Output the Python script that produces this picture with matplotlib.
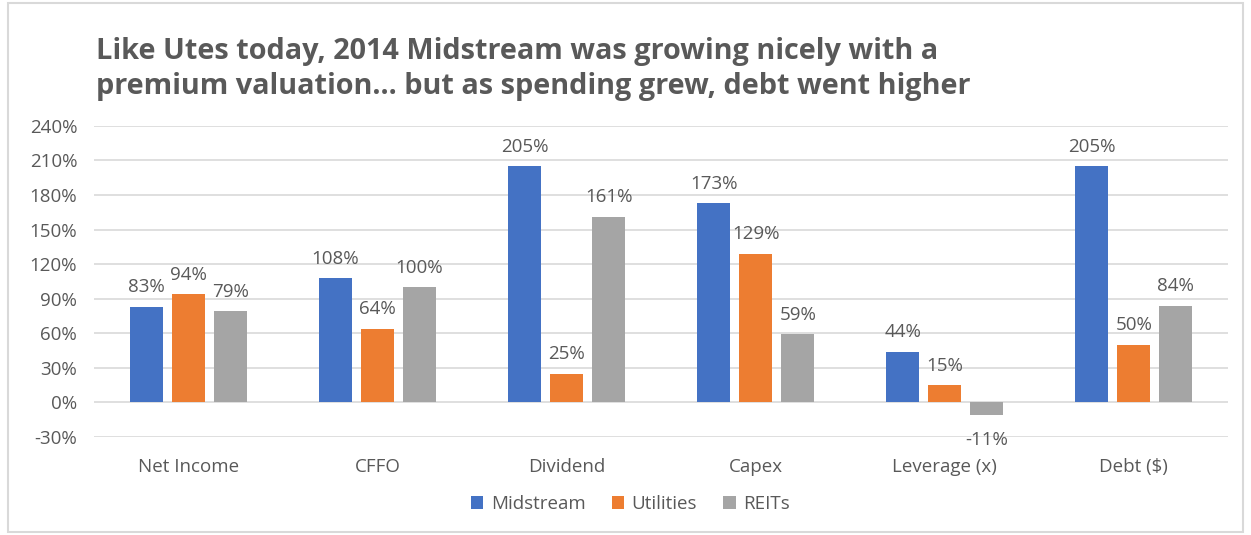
import numpy as np
import matplotlib.pyplot as plt
from matplotlib.patches import Rectangle

categories = ['Net Income', 'CFFO', 'Dividend', 'Capex', 'Leverage (x)', 'Debt ($)']
midstream = [83, 108, 205, 173, 44, 205]
utilities = [94, 64, 25, 129, 15, 50]
reits = [79, 100, 161, 59, -11, 84]
series = [('Midstream', midstream, '#4472C4'),
          ('Utilities', utilities, '#ED7D31'),
          ('REITs', reits, '#A5A5A5')]

plt.rcParams['font.family'] = ['Open Sans', 'DejaVu Sans']
txt = '#595959'

fig = plt.figure(figsize=(12.51, 5.35), dpi=100)
ax = fig.add_axes([0.075, 0.183, 0.907, 0.582])

x = np.arange(len(categories))
w = 0.175
step = 0.222
for i, (name, vals, col) in enumerate(series):
    pos = x + (i - 1) * step
    ax.bar(pos, vals, width=w, color=col, label=name, zorder=3)
    for p, v in zip(pos, vals):
        if v >= 0:
            ax.text(p, v + 9, f'{v}%', ha='center', va='bottom', fontsize=13.5, color=txt)
        else:
            ax.text(p, v - 14, f'{v}%', ha='center', va='top', fontsize=13.5, color=txt)

ax.set_xlim(-0.5, len(categories) - 0.5)
ax.set_ylim(-30, 240)
ax.set_yticks(np.arange(-30, 241, 30))
ax.set_yticklabels([f'{t}%' for t in range(-30, 241, 30)])
ax.set_xticks(x)
ax.set_xticklabels(categories)
ax.tick_params(length=0, labelsize=13.5, colors=txt)
ax.tick_params(axis='x', pad=15)
ax.tick_params(axis='y', pad=12)
ax.grid(axis='y', color='#D9D9D9', linewidth=1.2, zorder=0)
for s in ax.spines.values():
    s.set_visible(False)

fig.text(0.077, 0.871, 'Like Utes today, 2014 Midstream was growing nicely with a\n'
         'premium valuation... but as spending grew, debt went higher',
         fontsize=20.8, fontweight='bold', color=txt, va='center', linespacing=1.3)

fig.legend(loc='center', bbox_to_anchor=(0.504, 0.058), ncol=3, frameon=False,
           fontsize=13.5, labelcolor=txt, handlelength=0.65, handleheight=0.65,
           handletextpad=0.4, columnspacing=1.4)

fig.add_artist(Rectangle((0.006, 0.006), 0.988, 0.988, transform=fig.transFigure,
                         fill=False, edgecolor='#D9D9D9', linewidth=1.5))

fig.savefig('out.png', dpi=100)
